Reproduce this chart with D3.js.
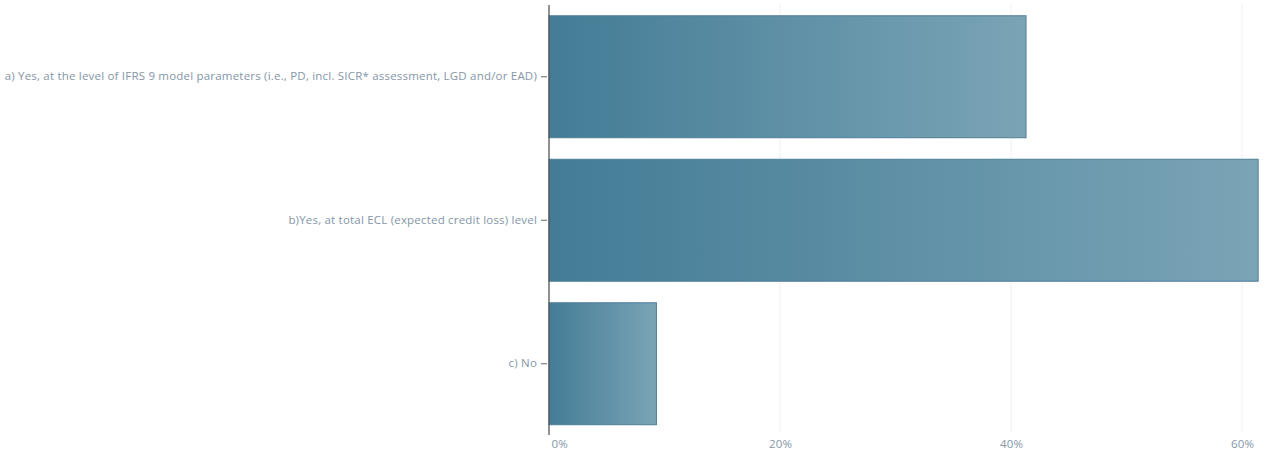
<!DOCTYPE html>
<html>
<head>
<meta charset="utf-8">
<script src="https://cdn.jsdelivr.net/npm/d3@7"></script>
<style>
  html, body { margin: 0; padding: 0; background: #fff; }
  svg { display: block; }
</style>
</head>
<body>
<svg id="chart" width="1266" height="457"></svg>
<script>
// Survey answers and share of respondents (%)
const categories = [
  "a) Yes, at the level of IFRS 9 model parameters (i.e., PD, incl. SICR* assessment, LGD and/or EAD)",
  "b)Yes, at total ECL (expected credit loss) level",
  "c) No"
];
const shares = [41.3, 61.4, 9.3];
const xTicks = [0, 20, 40, 60];

const svg = d3.select("#chart");
const fontFamily = "'Open Sans', Lato, sans-serif";

const x = d3.scaleLinear().domain([0, 60]).range([549, 1242]);
const y = d3.scaleBand().domain(categories).range([5, 435.5]).paddingInner(0.15).paddingOuter(0.075);

const textColor = "#8496a8";

// horizontal gradient applied per bar
const defs = svg.append("defs");
const grad = defs.append("linearGradient")
  .attr("id", "barGrad")
  .attr("x1", "0%").attr("x2", "100%").attr("y1", "0%").attr("y2", "0%");
grad.append("stop").attr("offset", "0%").attr("stop-color", "#437c96");
grad.append("stop").attr("offset", "100%").attr("stop-color", "#7ba4b6");

// dotted vertical gridlines
svg.append("g").selectAll("line")
  .data(xTicks.filter(d => d > 0))
  .join("line")
  .attr("x1", d => x(d)).attr("x2", d => x(d))
  .attr("y1", 5).attr("y2", 433)
  .attr("stroke", "#e3e3e3")
  .attr("stroke-width", 1)
  .attr("stroke-dasharray", "1,1");

// bars
svg.append("g").selectAll("rect")
  .data(categories.map((c, i) => ({ c, v: shares[i] })))
  .join("rect")
  .attr("x", x(0))
  .attr("y", d => y(d.c))
  .attr("width", d => x(d.v) - x(0))
  .attr("height", y.bandwidth())
  .attr("fill", "url(#barGrad)")
  .attr("stroke", "#4d7f95")
  .attr("stroke-width", 1);

// y axis
const yAxis = d3.axisLeft(y).tickSize(6).tickPadding(4);
const gy = svg.append("g").attr("transform", `translate(${x(0)},0)`).call(yAxis);
gy.select(".domain").remove();
gy.selectAll(".tick line").attr("stroke", "#666").attr("x2", -8).attr("x1", -2);
gy.selectAll(".tick text").attr("x", -12)
  .attr("fill", textColor)
  .style("font-family", fontFamily)
  .style("font-size", "11.5px")
  .style("letter-spacing", "0.2px");
svg.append("line")
  .attr("x1", x(0)).attr("x2", x(0))
  .attr("y1", 5).attr("y2", 435)
  .attr("stroke", "#555").attr("stroke-width", 1.3);

// x axis labels
const xAxis = d3.axisBottom(x).tickValues(xTicks).tickFormat(d => d + "%").tickSize(0).tickPadding(0);
const gx = svg.append("g").attr("transform", "translate(0,440)").call(xAxis);
gx.select(".domain").remove();
gx.selectAll(".tick text")
  .attr("fill", textColor)
  .style("font-family", fontFamily)
  .style("font-size", "11.5px")
  .style("letter-spacing", "0.2px")
  .attr("dy", "0.71em")
  .attr("text-anchor", d => d === 0 ? "start" : "middle")
  .attr("x", d => d === 0 ? 2 : 0);
</script>
</body>
</html>
